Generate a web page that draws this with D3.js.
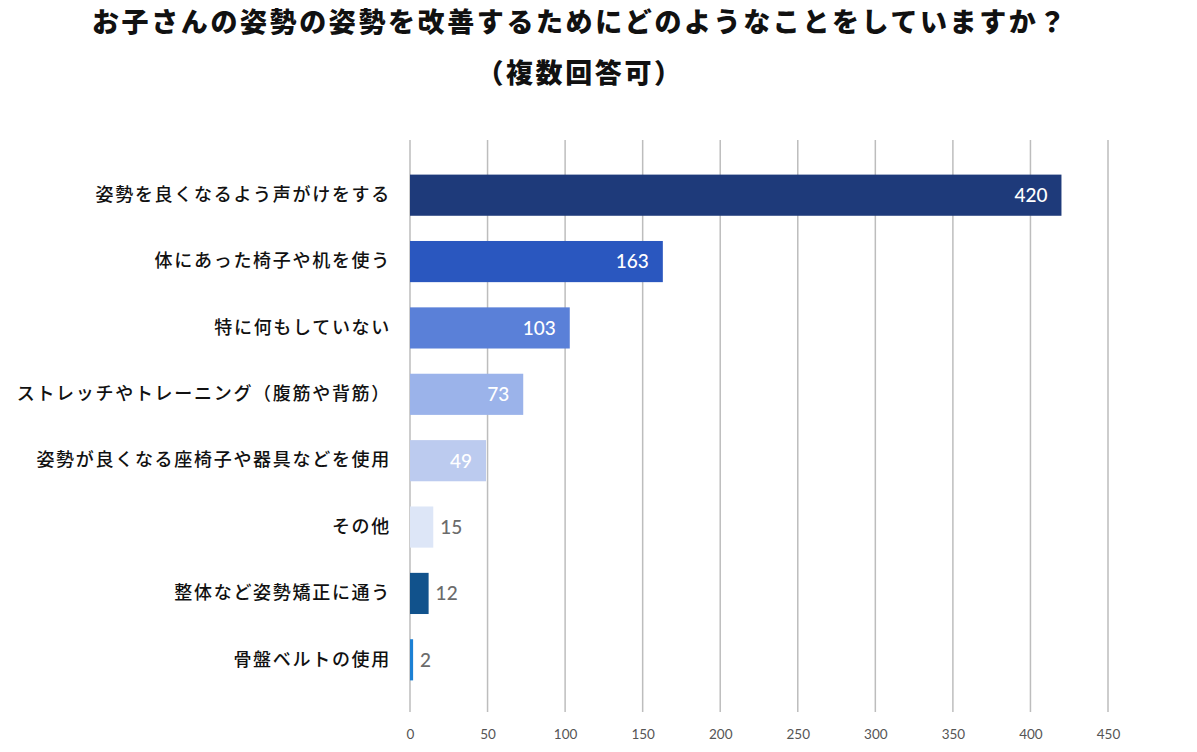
<!DOCTYPE html>
<html><head><meta charset="utf-8">
<script src="https://cdn.jsdelivr.net/npm/d3@7"></script>
<style>
html,body{margin:0;padding:0;background:#fff;}
svg{display:block;}
</style></head>
<body>
<svg id="chart" width="1197" height="752"></svg>
<script>
const titleLines = ["お子さんの姿勢の姿勢を改善するためにどのようなことをしていますか？", "（複数回答可）"];
const categories = [
  "姿勢を良くなるよう声がけをする",
  "体にあった椅子や机を使う",
  "特に何もしていない",
  "ストレッチやトレーニング（腹筋や背筋）",
  "姿勢が良くなる座椅子や器具などを使用",
  "その他",
  "整体など姿勢矯正に通う",
  "骨盤ベルトの使用"
];
const values = [420, 163, 103, 73, 49, 15, 12, 2];
const barColors = ["#1e3a7a", "#2a57bf", "#5a80d8", "#9bb3ea", "#bccbef", "#dde6f7", "#11528c", "#1c80d4"];
const tickValues = [0, 50, 100, 150, 200, 250, 300, 350, 400, 450];

const svg = d3.select("#chart");
const x = d3.scaleLinear().domain([0, 450]).range([410, 1108]);
const y = d3.scaleBand().domain(categories).range([162, 693]).paddingInner(0.38).paddingOuter(0.19);

// title
svg.selectAll("text.title").data(titleLines).join("text")
  .attr("class", "title")
  .attr("x", 580).attr("y", (d, i) => i === 0 ? 32 : 83)
  .attr("text-anchor", "middle")
  .style("font-family", "'Noto Sans CJK JP', sans-serif")
  .style("font-weight", 900)
  .style("font-size", "27px")
  .style("letter-spacing", "2.6px")
  .attr("fill", "#111")
  .text(d => d);

// gridlines
svg.append("g").selectAll("line").data(tickValues).join("line")
  .attr("x1", d => x(d)).attr("x2", d => x(d))
  .attr("y1", 140).attr("y2", 712)
  .attr("stroke", "#bdbdbd").attr("stroke-width", 1.5);

// x axis tick labels
const xAxis = d3.axisBottom(x).tickValues(tickValues).tickSize(0).tickPadding(0);
const gx = svg.append("g").attr("transform", "translate(0,729)").call(xAxis);
gx.select(".domain").remove();
gx.selectAll("text")
  .style("font-family", "Lato, sans-serif")
  .style("font-size", "13.5px")
  .attr("fill", "#555");

// bars
svg.append("g").selectAll("rect").data(values).join("rect")
  .attr("x", x(0))
  .attr("y", (d, i) => y(categories[i]))
  .attr("width", d => x(d) - x(0))
  .attr("height", y.bandwidth())
  .attr("fill", (d, i) => barColors[i]);

// category labels
const yAxis = d3.axisLeft(y).tickSize(0).tickPadding(19);
const gy = svg.append("g").attr("transform", `translate(${x(0)},0)`).call(yAxis);
gy.select(".domain").remove();
gy.selectAll("text")
  .style("font-family", "'Noto Sans CJK JP', sans-serif")
  .style("font-weight", 500)
  .style("font-size", "18px")
  .style("letter-spacing", "1.7px")
  .attr("fill", "#111");

// value labels
svg.append("g").selectAll("text").data(values).join("text")
  .attr("x", d => d >= 40 ? x(d) - 14 : x(d) + 7)
  .attr("y", (d, i) => y(categories[i]) + y.bandwidth() / 2)
  .attr("dy", "0.36em")
  .attr("text-anchor", d => d >= 40 ? "end" : "start")
  .style("font-family", "Lato, sans-serif")
  .style("font-weight", 500)
  .style("font-size", "19px")
  .attr("fill", d => d >= 40 ? "#fff" : "#6b6b6b")
  .text(d => d);
</script>
</body></html>
